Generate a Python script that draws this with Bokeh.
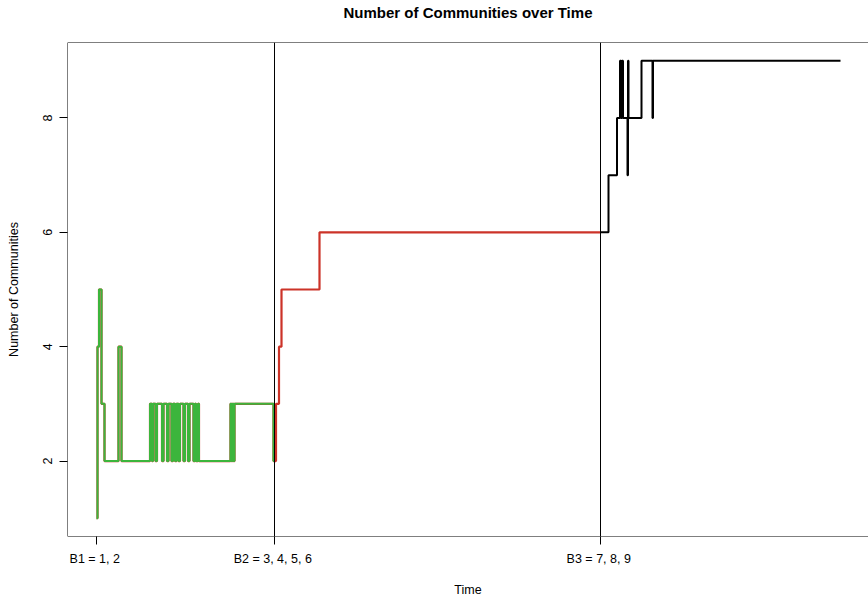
from bokeh.plotting import figure
from bokeh.models import Range1d, FixedTicker, Span, Title
from bokeh.embed import file_html
from bokeh.resources import INLINE

# ---- data (time steps, number of communities; step changes) ----
break_times = [0, 178, 504]
break_labels = ["B1 =  1, 2", "B2 =  3, 4, 5, 6", "B3 =  7, 8, 9"]

green_t = [0, 1, 2.5, 5, 8, 22, 25,
           53.5, 55.5, 56.5, 59, 60.5, 65.5, 67, 70.5, 72, 75, 76.5, 78.5,
           80, 82, 83.5, 87, 88.5, 91.5, 93, 97, 98.5, 99.5, 101.5, 102.5,
           134, 135, 136, 137, 138, 177, 178]
green_n = [1, 4, 5, 3, 2, 4, 2,
           3, 2, 3, 2, 3, 2, 3, 2, 3, 2, 3, 2,
           3, 2, 3, 2, 3, 2, 3, 2, 3, 2, 3, 2,
           3, 2, 3, 2, 3, 2, 2]

red_t = [178, 179.5, 182.5, 185, 223, 504]
red_n = [2, 3, 4, 5, 6, 6]

black_t = [504, 512, 520.5, 523.5, 524.5, 525.5, 526.5, 531, 531.5, 532, 545, 556, 556.5, 744]
black_n = [6, 7, 8, 9, 8, 9, 8, 7, 9, 8, 9, 8, 9, 9]

y_ticks = [2, 4, 6, 8]
title_text = "Number of Communities over Time"

FONT = "Liberation Sans"
X0, X1 = -29, 772
Y0, Y1 = 0.68, 9.32

p = figure(width=868, height=599,
           x_range=Range1d(X0, X1), y_range=Range1d(Y0, Y1),
           output_backend="svg", toolbar_location=None,
           min_border_left=67, min_border_right=0,
           min_border_top=42, min_border_bottom=63)

p.background_fill_color = "white"
p.border_fill_color = "white"
p.outline_line_color = None
p.xgrid.grid_line_color = None
p.ygrid.grid_line_color = None

# empty spacer between the plot box and the title, then the title itself
p.add_layout(Title(text=" ", text_font=FONT, text_font_size="10px", standoff=6.5), "above")
p.add_layout(Title(text=title_text, align="center", text_font=FONT,
                   text_font_size="15px", text_font_style="bold",
                   text_color="black", standoff=3.3), "above")

for ax in (p.xaxis[0], p.yaxis[0]):
    ax.axis_line_color = None
    ax.major_tick_out = 8
    ax.major_tick_in = 0
    ax.minor_tick_line_color = None
    ax.major_tick_line_color = "black"
    ax.major_label_text_font = FONT
    ax.major_label_text_font_size = "12.5px"
    ax.major_label_text_color = "black"
    ax.axis_label_text_font = FONT
    ax.axis_label_text_font_size = "12.5px"
    ax.axis_label_text_font_style = "normal"
    ax.axis_label_text_color = "black"

p.xaxis.ticker = FixedTicker(ticks=break_times)
p.xaxis.major_label_overrides = {t: l for t, l in zip(break_times, break_labels)}
p.xaxis.axis_label = "Time"
p.xaxis.major_label_standoff = 7
p.xaxis.axis_label_standoff = 14

p.yaxis.ticker = FixedTicker(ticks=y_ticks)
p.yaxis.major_label_orientation = "vertical"
p.yaxis.axis_label = "Number of Communities"
p.yaxis.major_label_standoff = 7
p.yaxis.axis_label_standoff = 20

# plot box: left, top and bottom edges (the right edge lies beyond the page)
p.add_layout(Span(location=X0, dimension="height", line_color="black", line_width=1))
p.add_layout(Span(location=Y1, dimension="width", line_color="black", line_width=1))
p.add_layout(Span(location=Y0, dimension="width", line_color="black", line_width=1))

for b in break_times[1:]:
    p.add_layout(Span(location=b, dimension="height", line_color="black", line_width=1))

# red path underlies the whole first part, green drawn over it
p.step(green_t + red_t, green_n + red_n, mode="after", line_color="#cc3328", line_width=2.2)
p.step(green_t, green_n, mode="after", line_color="#3cb53c", line_width=2)
p.step(black_t, black_n, mode="after", line_color="black", line_width=2)

open("out.html", "w").write(file_html(p, INLINE))
